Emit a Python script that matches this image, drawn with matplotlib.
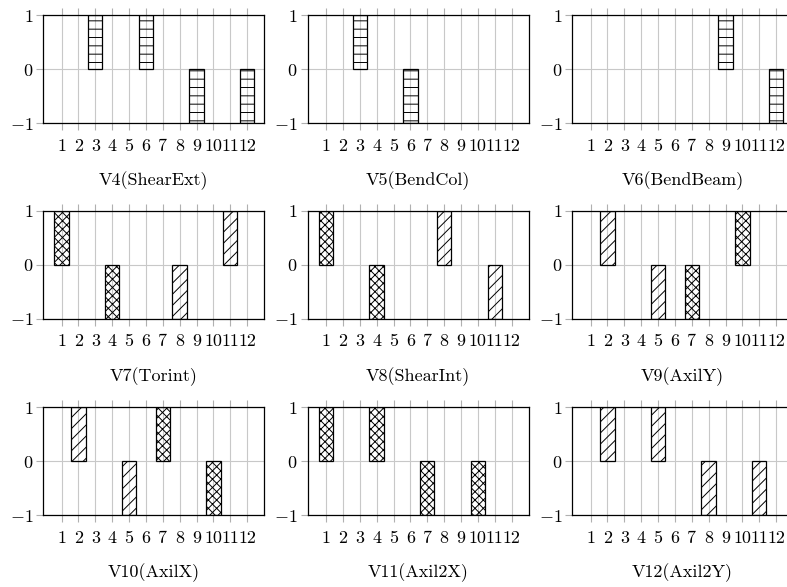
import matplotlib
matplotlib.use('Agg')
import matplotlib.pyplot as plt
import numpy as np

plt.rcParams['font.family'] = ['cmr10', 'DejaVu Serif']
plt.rcParams['mathtext.fontset'] = 'cm'
plt.rcParams['font.size'] = 13
plt.rcParams['hatch.linewidth'] = 0.7
plt.rcParams['axes.formatter.use_mathtext'] = True

positions = np.arange(1, 13)
x_labels = [str(p) for p in positions]
y_ticks = [-1, 0, 1]
y_labels = ['$-1$', '$0$', '$1$']

# values per position 1..12, one list per hatch series
shear_ext = [0, 0, 1, 0, 0, 1, 0, 0, -1, 0, 0, -1]
bend_col = [0, 0, 1, 0, 0, -1, 0, 0, 0, 0, 0, 0]
bend_beam = [0, 0, 0, 0, 0, 0, 0, 0, 1, 0, 0, -1]
torint_cross = [1, 0, 0, -1, 0, 0, 0, 0, 0, 0, 0, 0]
torint_diag = [0, 0, 0, 0, 0, 0, 0, -1, 0, 0, 1, 0]
shear_int_cross = [1, 0, 0, -1, 0, 0, 0, 0, 0, 0, 0, 0]
shear_int_diag = [0, 0, 0, 0, 0, 0, 0, 1, 0, 0, -1, 0]
axil_y_cross = [0, 0, 0, 0, 0, 0, -1, 0, 0, 1, 0, 0]
axil_y_diag = [0, 1, 0, 0, -1, 0, 0, 0, 0, 0, 0, 0]
axil_x_cross = [0, 0, 0, 0, 0, 0, 1, 0, 0, -1, 0, 0]
axil_x_diag = [0, 1, 0, 0, -1, 0, 0, 0, 0, 0, 0, 0]
axil2x_cross = [1, 0, 0, 1, 0, 0, -1, 0, 0, -1, 0, 0]
axil2y_diag = [0, 1, 0, 0, 1, 0, 0, -1, 0, 0, -1, 0]

HORIZ = '--'
CROSS = 'xxxx'
DIAG = '///'

panels = [
    ('V4(ShearExt)', [(shear_ext, HORIZ)]),
    ('V5(BendCol)', [(bend_col, HORIZ)]),
    ('V6(BendBeam)', [(bend_beam, HORIZ)]),
    ('V7(Torint)', [(torint_cross, CROSS), (torint_diag, DIAG)]),
    ('V8(ShearInt)', [(shear_int_cross, CROSS), (shear_int_diag, DIAG)]),
    ('V9(AxilY)', [(axil_y_cross, CROSS), (axil_y_diag, DIAG)]),
    ('V10(AxilX)', [(axil_x_cross, CROSS), (axil_x_diag, DIAG)]),
    ('V11(Axil2X)', [(axil2x_cross, CROSS)]),
    ('V12(Axil2Y)', [(axil2y_diag, DIAG)]),
]

W, H = 787, 587
fig = plt.figure(figsize=(W / 100, H / 100), dpi=100)

lefts = [43, 307.5, 572]
tops = [15, 210.5, 407]
aw, ah = 221, 108

for i, (title, series) in enumerate(panels):
    row, col = divmod(i, 3)
    ax = fig.add_axes([lefts[col] / W, 1 - (tops[row] + ah) / H, aw / W, ah / H])
    for values, hatch in series:
        values = np.array(values)
        mask = values != 0
        ax.bar(positions[mask], values[mask], width=0.85, facecolor='none',
               edgecolor='black', linewidth=0.9, hatch=hatch, zorder=3)

    ax.set_xlim(-0.1, 13)
    ax.set_ylim(-1, 1)
    ax.set_xticks(positions)
    ax.set_xticklabels(x_labels)
    ax.set_yticks(y_ticks)
    ax.set_yticklabels(y_labels)
    ax.set_axisbelow(True)
    ax.grid(True, color='#c8c8c8', linewidth=0.8)
    ax.tick_params(axis='x', top=True, bottom=True, direction='out', length=5,
                   color='#b0b0b0', width=0.8, pad=6)
    ax.tick_params(axis='y', left=True, right=False, direction='out', length=5,
                   color='#b0b0b0', width=0.8, pad=2)
    for s in ax.spines.values():
        s.set_color('black')
        s.set_linewidth(0.9)
        s.set_zorder(4)
    ax.set_xlabel(title, labelpad=13)

fig.savefig('out.png', dpi=100)
